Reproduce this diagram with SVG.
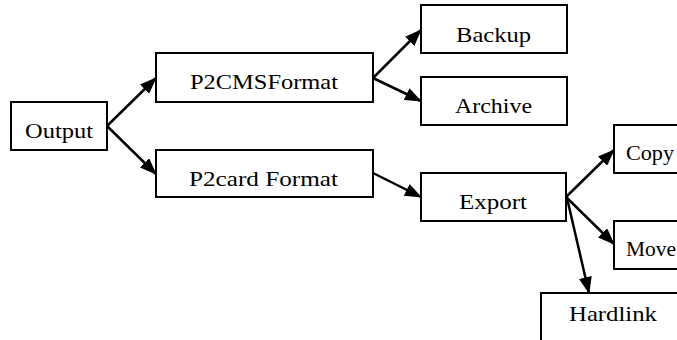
<svg xmlns="http://www.w3.org/2000/svg" width="677" height="340" viewBox="0 0 677 340">
<style>
.box{fill:#fff;stroke:#000;stroke-width:2}
.edge{stroke:#000;stroke-width:2.5;fill:none;marker-end:url(#ah)}
text{font-family:"Liberation Serif","Times New Roman",serif;font-size:22px;fill:#000}
</style>
<defs>
<marker id="ah" markerUnits="userSpaceOnUse" markerWidth="17" markerHeight="13" refX="16" refY="6.5" orient="auto">
<path d="M0,0 L17,6.5 L0,13 z" fill="#000"/>
</marker>
</defs>
<rect width="677" height="340" fill="#fff"/>
<g id="connectors">
<line class="edge" x1="107" y1="126" x2="156" y2="78"/>
<line class="edge" x1="107" y1="126" x2="156" y2="174"/>
<line class="edge" x1="373" y1="78" x2="421" y2="30"/>
<line class="edge" x1="373" y1="78" x2="421" y2="101"/>
<line class="edge" x1="373" y1="173" x2="421" y2="197"/>
<line class="edge" x1="566" y1="197" x2="614" y2="150"/>
<line class="edge" x1="566" y1="197" x2="614" y2="244"/>
<line class="edge" x1="567" y1="198" x2="589" y2="293"/>
</g>
<g id="output"><rect class="box" x="11" y="102" width="96" height="48"/><text x="25" y="137.5" textLength="68" lengthAdjust="spacingAndGlyphs">Output</text></g>
<g id="p2cms"><rect class="box" x="156" y="53" width="217" height="49"/><text x="190" y="89" textLength="148" lengthAdjust="spacingAndGlyphs">P2CMSFormat</text></g>
<g id="p2card"><rect class="box" x="156" y="150" width="217" height="47"/><text x="189" y="185.5" textLength="149" lengthAdjust="spacingAndGlyphs">P2card Format</text></g>
<g id="backup"><rect class="box" x="421" y="5" width="146" height="48"/><text x="456" y="41.5" textLength="75" lengthAdjust="spacingAndGlyphs">Backup</text></g>
<g id="archive"><rect class="box" x="421" y="77" width="146" height="48"/><text x="455" y="113.3" textLength="77" lengthAdjust="spacingAndGlyphs">Archive</text></g>
<g id="export"><rect class="box" x="421" y="173" width="145" height="48"/><text x="459" y="209" textLength="68" lengthAdjust="spacingAndGlyphs">Export</text></g>
<g id="copy"><rect class="box" x="614" y="125" width="80" height="48"/><text x="626" y="160" textLength="48" lengthAdjust="spacingAndGlyphs">Copy</text></g>
<g id="move"><rect class="box" x="614" y="221" width="80" height="48"/><text x="626" y="256" textLength="50" lengthAdjust="spacingAndGlyphs">Move</text></g>
<g id="hardlink"><rect class="box" x="541" y="293" width="150" height="60"/><text x="569" y="321" textLength="88" lengthAdjust="spacingAndGlyphs">Hardlink</text></g>
</svg>
